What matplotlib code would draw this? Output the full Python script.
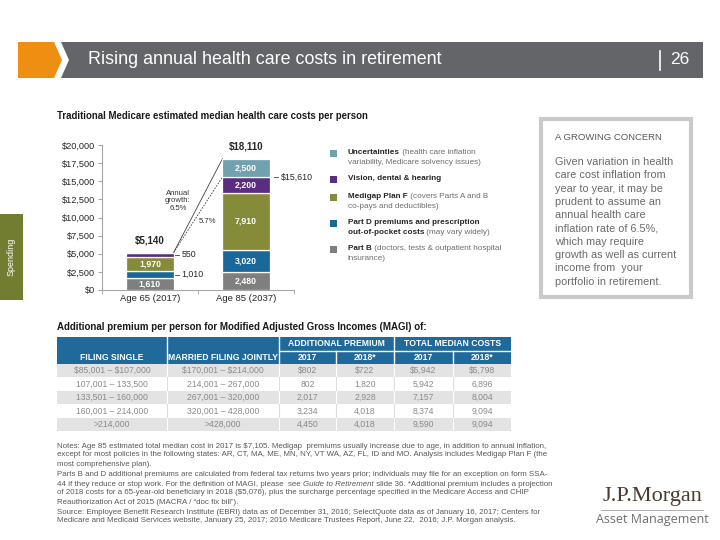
import numpy as np
import matplotlib.pyplot as plt
import matplotlib.patches as mpatches
from matplotlib.ticker import FuncFormatter

plt.rcParams['font.family'] = ['Liberation Sans', 'DejaVu Sans']
plt.rcParams['text.parse_math'] = False  # dollar signs are plain text here

# ── Chart data ────────────────────────────────────────────────────────────────
categories = ['Age 65 (2017)', 'Age 85 (2037)']
years_apart = 2037 - 2017
part_b = [1610, 2480]
part_d = [1010, 3020]
medigap = [1970, 7910]
vision = [550, 2200]
uncertainties = [0, 2500]
y_ticks = [0, 2500, 5000, 7500, 10000, 12500, 15000, 17500, 20000]

seg_colors = ['#7f7f7f', '#1a6799', '#868b3a', '#5a2d81', '#71a0ae']

legend_items = [  # top to bottom, list of lines, each line a list of (text, bold)
    ('#71a0ae', [[('Uncertainties', True), (' (health care inflation', False)],
                 [('variability, Medicare solvency issues)', False)]]),
    ('#5a2d81', [[('Vision, dental & hearing', True)]]),
    ('#868b3a', [[('Medigap Plan F', True), (' (covers Parts A and B', False)],
                 [('co-pays and deductibles)', False)]]),
    ('#1a6799', [[('Part D premiums and prescription', True)],
                 [('out-of-pocket costs', True), (' (may vary widely)', False)]]),
    ('#7f7f7f', [[('Part B', True), (' (doctors, tests & outpatient hospital', False)],
                 [('insurance)', False)]]),
]

# ── Table data ────────────────────────────────────────────────────────────────
filing_single = ['$85,001 – $107,000', '107,001 – 133,500', '133,501 – 160,000',
                 '160,001 – 214,000', '>214,000']
married_jointly = ['$170,001 – $214,000', '214,001 – 267,000', '267,001 – 320,000',
                   '320,001 – 428,000', '>428,000']
premium_2017 = ['$802', '802', '2,017', '3,234', '4,450']
premium_2018 = ['$722', '1,820', '2,928', '4,018', '4,018']
total_2017 = ['$5,942', '5,942', '7,157', '8,374', '9,590']
total_2018 = ['$5,798', '6,896', '8,004', '9,094', '9,094']

concern_lines = ['Given variation in health', 'care cost inflation from',
                 'year to year, it may be', 'prudent to assume an',
                 'annual health care', 'inflation rate of 6.5%,',
                 'which may require', 'growth as well as current',
                 'income from  your', 'portfolio in retirement.']

notes_lines = [
    [('Notes: Age 85 estimated total median cost in 2017 is $7,105. Medigap  premiums usually increase due to age, in addition to annual inflation,', 'n')],
    [('except for most policies in the following states: AR, CT, MA, ME, MN, NY, VT WA, AZ, FL, ID and MO. Analysis includes Medigap Plan F (the', 'n')],
    [('most comprehensive plan).', 'n')],
    [('Parts B and D additional premiums are calculated from federal tax returns two years prior; individuals may file for an exception on form SSA-', 'n')],
    [('44 if they reduce or stop work. For the definition of MAGI, please  see ', 'n'), ('Guide to Retirement', 'i'),
     (' slide 36. *Additional premium includes a projection', 'n')],
    [('of 2018 costs for a 65-year-old beneficiary in 2018 ($5,076), plus the surcharge percentage specified in the Medicare Access and CHIP', 'n')],
    [('Reauthorization Act of 2015 (MACRA / “doc fix bill”).', 'n')],
    [('Source: Employee Benefit Research Institute (EBRI) data as of December 31, 2016; SelectQuote data as of January 16, 2017; Centers for', 'n')],
    [('Medicare and Medicaid Services website, January 25, 2017; 2016 Medicare Trustees Report, June 22,  2016; J.P. Morgan analysis.', 'n')],
]
notes_y = [446, 455, 464, 475, 484, 493, 502, 512, 521]

# ── Figure and a full-size pixel-coordinate layer ─────────────────────────────
fig = plt.figure(figsize=(7.2, 5.4), dpi=100)
bg = fig.add_axes([0, 0, 1, 1])
bg.set_xlim(0, 720)
bg.set_ylim(540, 0)
bg.axis('off')
renderer = fig.canvas.get_renderer()


def rich_line(x, y, parts, size, colors, **kw):
    """Draw a line of text made of differently styled pieces, left to right."""
    for text, style in parts:
        weight = 'bold' if style in (True, 'b') else 'normal'
        fstyle = 'italic' if style == 'i' else 'normal'
        color = colors[0] if style in (True, 'b') else colors[1]
        t = bg.text(x, y, text, fontsize=size, fontweight=weight, fontstyle=fstyle,
                    color=color, va='center', ha='left', **kw)
        x += t.get_window_extent(renderer).width


# header bar
bg.add_patch(mpatches.Polygon([(18, 42), (54, 42), (62, 60), (54, 78), (18, 78)],
                              closed=True, facecolor='#ee8f12', edgecolor='none'))
bg.add_patch(mpatches.Polygon([(61, 42), (703, 42), (703, 78), (61, 78), (69, 60)],
                              closed=True, facecolor='#636569', edgecolor='none'))
bg.text(88, 60, 'Rising annual health care costs in retirement', fontsize=12.9,
        color='white', va='center', ha='left')
bg.plot([660, 660], [51, 70], color='white', lw=1.2)
bg.text(670, 60, '26', fontsize=12.5, color='white', va='center', ha='left')

# chart title and side tab
bg.text(57, 116, 'Traditional Medicare estimated median health care costs per person',
        fontsize=6.9, fontweight='bold', color='#1a1a1a', va='center')
bg.add_patch(mpatches.Rectangle((0, 214), 23, 86, facecolor='#737d31', edgecolor='none'))
bg.text(11.5, 257, 'Spending', rotation=90, fontsize=6.5, color='white',
        ha='center', va='center')

# legend
legend_rows = [(153, 163), (179,), (197, 207), (223, 233), (249, 259)]
for (color, lines), ys in zip(legend_items, legend_rows):
    bg.add_patch(mpatches.Rectangle((330, ys[0] - 3.5), 7, 7, facecolor=color,
                                    edgecolor='none'))
    for parts, yy in zip(lines, ys):
        rich_line(348, yy, parts, 5.9, ('#262626', '#6e6e6e'))

# "A growing concern" box
bg.add_patch(mpatches.Rectangle((541, 119), 150, 178, facecolor='white',
                                edgecolor='#c9c9c9', lw=3))
bg.text(555, 137, 'A GROWING CONCERN', fontsize=6.8, color='#595959', va='center')
for k, line in enumerate(concern_lines):
    bg.text(555, 162 + k * 13.3, line, fontsize=7.8, color='#6a6a6a', va='center')

# ── Bar chart ────────────────────────────────────────────────────────────────
ax = fig.add_axes([102 / 720, 1 - 290 / 540, 192 / 720, 145 / 540])
ax.patch.set_alpha(0)
x = np.arange(len(categories))
w = 0.49
segments = [part_b, part_d, medigap, vision, uncertainties]
bottom = np.zeros(len(categories))
for vals, color in zip(segments, seg_colors):
    vals = np.array(vals, dtype=float)
    ax.bar(x, vals, width=w, bottom=bottom, color=color, edgecolor='white',
           linewidth=0.9, zorder=3)
    for i, v in enumerate(vals):
        if v == 0:
            continue
        mid = bottom[i] + v / 2
        if v >= 1500:
            ax.text(x[i], mid, f'{v:,.0f}', color='white', fontsize=6.3,
                    fontweight='bold', ha='center', va='center', zorder=4)
        else:
            ax.plot([x[i] + w / 2 + 0.02, x[i] + w / 2 + 0.055], [mid, mid],
                    color='#404040', lw=0.6, zorder=4)
            ax.text(x[i] + w / 2 + 0.085, mid, f'{v:,.0f}', color='#262626',
                    fontsize=6.3, ha='left', va='center', zorder=4)
    bottom += vals

totals = bottom
base_85 = totals[1] - uncertainties[1]
for i, tot in enumerate(totals):
    ax.annotate(f'${tot:,.0f}', (x[i], tot), xytext=(0, 5), textcoords='offset points',
                ha='center', va='bottom', fontsize=7, fontweight='bold', color='#262626')
ax.plot([x[1] + w / 2 + 0.05, x[1] + w / 2 + 0.09], [base_85, base_85],
        color='#404040', lw=0.6)
ax.text(x[1] + w / 2 + 0.12, base_85, f'${base_85:,.0f}', fontsize=6.3,
        color='#262626', ha='left', va='center')

# growth lines between the bars
x0, x1 = x[0] + w / 2, x[1] - w / 2
growth_total = (totals[1] / totals[0]) ** (1 / years_apart) - 1
growth_base = (base_85 / totals[0]) ** (1 / years_apart) - 1
ax.plot([x0, x1], [totals[0], totals[1]], color='#404040', lw=0.6)
ax.plot([x0, x1], [totals[0], base_85], color='#404040', lw=0.6, ls=(0, (2, 1.5)))
ax.text(0.29, 12300, f'Annual\ngrowth:\n{growth_total:.1%}', fontsize=5.6,
        color='#333333', ha='center', va='center', linespacing=1.1)
ax.text(0.60, 9400, f'{growth_base:.1%}', fontsize=5.6, color='#333333',
        ha='center', va='center')

ax.set_xlim(-0.5, 1.5)
ax.set_ylim(0, 20000)
ax.set_yticks(y_ticks)
ax.yaxis.set_major_formatter(FuncFormatter(lambda v, p: f'${v:,.0f}'))
ax.set_xticks(x)
ax.set_xticklabels(categories)
ax.set_xticks([-0.5, 0.5, 1.5], minor=True)
ax.tick_params(axis='x', which='major', length=0, labelsize=6.8, pad=3,
               labelcolor='#262626')
ax.tick_params(axis='x', which='minor', length=3, color='#a6a6a6')
ax.tick_params(axis='y', length=3, color='#a6a6a6', labelsize=6.6, pad=2,
               labelcolor='#262626')
for side in ('top', 'right'):
    ax.spines[side].set_visible(False)
for side in ('left', 'bottom'):
    ax.spines[side].set_color('#a6a6a6')
    ax.spines[side].set_linewidth(0.8)

# ── MAGI table ───────────────────────────────────────────────────────────────
bg.text(57, 327, 'Additional premium per person for Modified Adjusted Gross Incomes (MAGI) of:',
        fontsize=7.05, fontweight='bold', color='#1a1a1a', va='center')
col_x = [57, 167, 279, 336, 394, 453, 511]
head_top, head_mid, head_bot = 337, 351, 364
row_h = 13.4
blue = '#1f6a9b'
bg.add_patch(mpatches.Rectangle((col_x[0], head_top), col_x[-1] - col_x[0],
                                head_bot - head_top, facecolor=blue, edgecolor='none'))
for cx in (col_x[1], col_x[2], col_x[4]):
    bg.plot([cx, cx], [head_top, head_bot], color='white', lw=1)
for cx in (col_x[3], col_x[5]):
    bg.plot([cx, cx], [head_mid, head_bot], color='white', lw=1)
bg.plot([col_x[2], col_x[-1]], [head_mid, head_mid], color='white', lw=1)

hkw = dict(fontsize=6.2, fontweight='bold', color='white', ha='center', va='center')
bg.text((col_x[0] + col_x[1]) / 2, 357.5, 'FILING SINGLE', **hkw)
bg.text((col_x[1] + col_x[2]) / 2, 357.5, 'MARRIED FILING JOINTLY', **hkw)
bg.text((col_x[2] + col_x[4]) / 2, 344, 'ADDITIONAL PREMIUM', **hkw)
bg.text((col_x[4] + col_x[6]) / 2, 344, 'TOTAL MEDIAN COSTS', **hkw)
for k, lab in enumerate(['2017', '2018*', '2017', '2018*']):
    bg.text((col_x[k + 2] + col_x[k + 3]) / 2, 357.5, lab, **hkw)

columns = [filing_single, married_jointly, premium_2017, premium_2018, total_2017, total_2018]
for r in range(len(filing_single)):
    y0 = head_bot + r * row_h
    shaded = r % 2 == 0
    if shaded:
        bg.add_patch(mpatches.Rectangle((col_x[0], y0), col_x[-1] - col_x[0], row_h,
                                        facecolor='#e3e3e3', edgecolor='none'))
    for cx in col_x[1:-1]:
        bg.plot([cx, cx], [y0, y0 + row_h], color='white' if shaded else '#dcdcdc', lw=0.8)
    for c, col in enumerate(columns):
        bg.text((col_x[c] + col_x[c + 1]) / 2, y0 + row_h / 2, col[r], fontsize=6.2,
                color='#8a8a8a', ha='center', va='center')

# notes
for parts, yy in zip(notes_lines, notes_y):
    rich_line(57, yy, parts, 5.65, ('#595959', '#595959'))

# logo
bg.text(652, 497, 'J.P.Morgan', family='Liberation Serif', fontsize=16,
        color='#4a3b30', ha='center', va='center')
bg.plot([601, 703], [510, 510], color='#a0a0a0', lw=0.6)
bg.text(652, 519, 'Asset Management', family='Open Sans', fontsize=9,
        color='#6d6e71', ha='center', va='center')

fig.savefig('out.png', dpi=100)
